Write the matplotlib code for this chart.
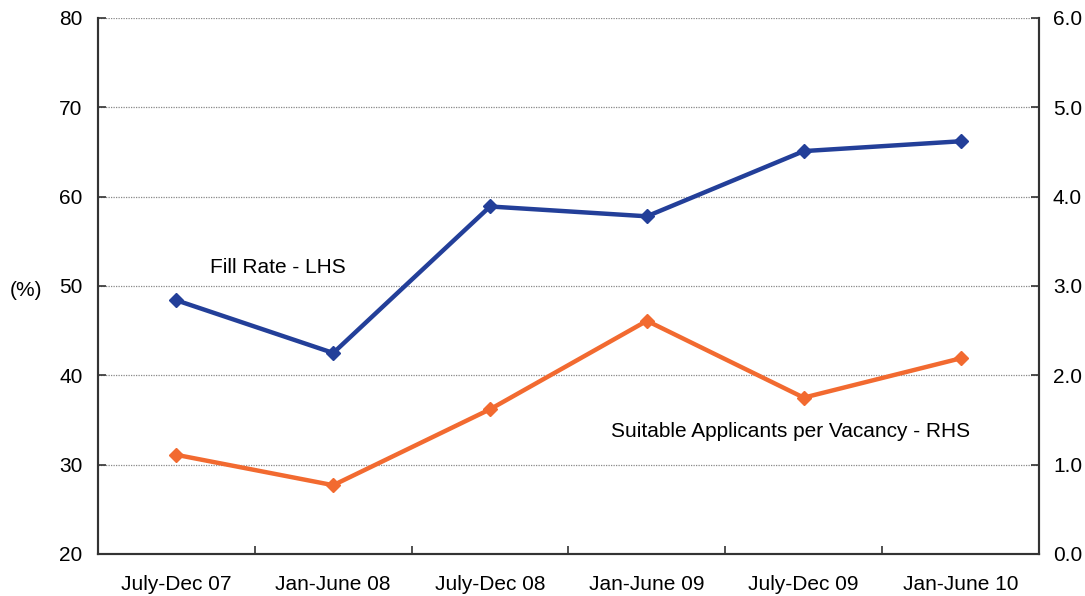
import matplotlib.pyplot as plt
import numpy as np

plt.rcParams['font.family'] = ['Liberation Sans', 'DejaVu Sans']

periods = ['July-Dec 07', 'Jan-June 08', 'July-Dec 08', 'Jan-June 09', 'July-Dec 09', 'Jan-June 10']
fill_rate = [48.4, 42.5, 58.9, 57.8, 65.1, 66.2]          # %, LHS
applicants = [1.11, 0.77, 1.62, 2.61, 1.75, 2.19]         # per vacancy, RHS

blue = '#233F99'
orange = '#F26A30'
fs = 15

fig = plt.figure(figsize=(10.85, 5.96), dpi=100)
ax = fig.add_axes([0.0903, 0.0705, 0.8673, 0.8993])
ax2 = ax.twinx()

x = np.arange(len(periods))

ax.plot(x, fill_rate, color=blue, lw=3.2, marker='D', ms=7.5, zorder=3)
ax2.plot(x, applicants, color=orange, lw=3.2, marker='D', ms=7.5, zorder=3)

ax.set_xlim(-0.5, len(periods) - 0.5)
ax.set_ylim(20, 80)
ax2.set_ylim(0, 6)
ax.set_yticks(np.arange(20, 81, 10))
ax2.set_yticks(np.arange(0, 6.01, 1))
ax2.set_yticklabels([f'{v:.1f}' for v in np.arange(0, 6.01, 1)])

ax.set_xticks(x)
ax.set_xticklabels(periods)
ax.set_xticks(np.arange(0.5, len(periods) - 1, 1), minor=True)
ax.tick_params(axis='x', which='major', length=0, pad=15, labelsize=fs)
ax.tick_params(axis='x', which='minor', length=6, direction='in', width=1.2, color='#333333')
ax.tick_params(axis='y', length=6, direction='in', width=1.2, pad=11, labelsize=fs, color='#333333')
ax2.tick_params(axis='y', length=6, direction='in', width=1.2, pad=10, labelsize=fs, color='#333333')

ax.yaxis.grid(True, linestyle=(0, (1, 1)), color='#888888', lw=0.9)
ax.set_axisbelow(True)

for a in (ax, ax2):
    a.spines['top'].set_visible(False)
    for s in ('left', 'right', 'bottom'):
        a.spines[s].set_color('#333333')
        a.spines[s].set_linewidth(1.5)

ax.text(0.214, 52.1, 'Fill Rate - LHS', fontsize=fs, ha='left', va='center')
ax2.text(2.77, 1.366, 'Suitable Applicants per Vacancy - RHS', fontsize=fs, ha='left', va='center')
fig.text(0.009, 0.513, '(%)', fontsize=fs, ha='left', va='center')

fig.savefig('out.png', dpi=100)
